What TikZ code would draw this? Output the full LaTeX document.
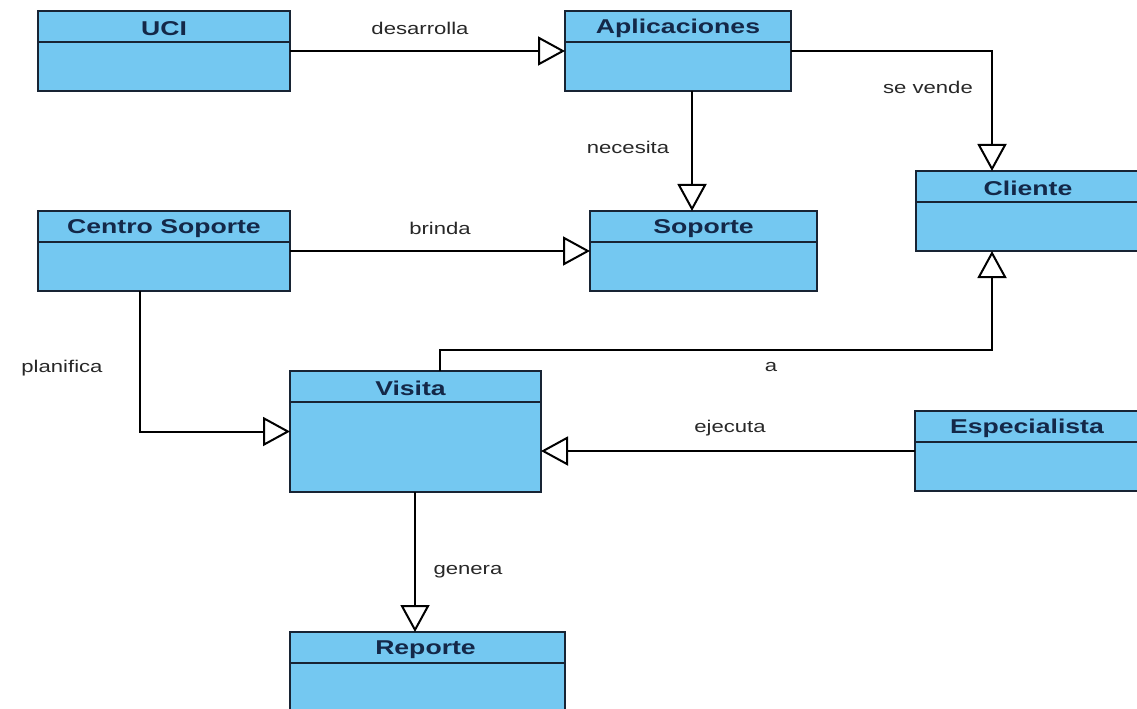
\documentclass[tikz,border=0pt]{standalone}
\usepackage{fontspec}
\usetikzlibrary{arrows.meta,calc}
\newfontfamily\titlefont[FakeStretch=1.33]{Liberation Sans}
\newfontfamily\labelfont[FakeStretch=1.3]{Liberation Sans}
\definecolor{classfill}{RGB}{116,200,241}
\definecolor{classedge}{RGB}{24,36,52}
\definecolor{titleink}{RGB}{20,40,72}
\definecolor{labelink}{RGB}{40,40,40}
\tikzset{
  classbox/.style={draw=classedge, line width=2bp, fill=classfill, rectangle,
    inner sep=0pt, outer sep=0pt, anchor=north west},
  divider/.style={draw=classedge, line width=1.8bp},
  classtitle/.style={text=titleink, inner sep=0pt,
    font=\titlefont\bfseries\fontsize{20bp}{24bp}\selectfont},
  edgelabel/.style={text=labelink, inner sep=0pt,
    font=\labelfont\fontsize{17bp}{20bp}\selectfont},
  generalization/.style={draw=black, line width=2bp,
    -{Triangle[open, fill=white, length=27bp, width=29bp]}},
}
% name, left, top, width, height, title, title x-offset from centre
\newcommand\umlclass[7]{%
  \node[classbox, minimum width=#4bp, minimum height=#5bp] (#1) at (#2,#3) {};
  \draw[divider] ([yshift=-31bp]#1.north west) -- ([yshift=-31bp]#1.north east);
  \node[classtitle] (#1-title) at ([xshift=#7bp, yshift=-17.5bp]#1.north) {#6};
}
\begin{document}
\begin{tikzpicture}[x=1bp, y=-1bp]
  \useasboundingbox[fill=white] (0,0) rectangle (1137,709);
  \clip (0,0) rectangle (1137,709);

  % classes
  \umlclass{uci}{38}{11}{252}{80}{UCI}{0}
  \umlclass{apps}{565}{11}{226}{80}{Aplicaciones}{0}
  \umlclass{cliente}{916}{171}{224}{80}{Cliente}{0}
  \umlclass{centro}{38}{211}{252}{80}{Centro Soporte}{0}
  \umlclass{soporte}{590}{211}{227}{80}{Soporte}{0}
  \umlclass{visita}{290}{371}{251}{121}{Visita}{-5}
  \umlclass{especialista}{915}{411}{224}{80}{Especialista}{0}
  \umlclass{reporte}{290}{632}{275}{110}{Reporte}{-2}

  % generalization connectors
  \draw[generalization] (uci.east) -- (apps.west);
  \draw[generalization] (apps.east) -| ($(cliente.north west)+(76,0)$);
  \draw[generalization] ($(apps.south west)+(127,0)$) -- ($(soporte.north west)+(102,0)$);
  \draw[generalization] (centro.east) -- (soporte.west);
  \draw[generalization] ($(centro.south west)+(102,0)$) |- (visita.west);
  \draw[generalization] ($(visita.north west)+(150,0)$) -- ++(0,-21)
    -| ($(cliente.south west)+(76,0)$);
  \draw[generalization] (especialista.west) -- (especialista.west -| visita.east);
  \coordinate (genera-start) at ($(visita.south west)+(125,0)$);
  \draw[generalization] (genera-start) -- (genera-start |- reporte.north);

  % connector labels
  \node[edgelabel] (l-desarrolla) at (420,28) {desarrolla};
  \node[edgelabel] (l-sevende) at (928,87) {se vende};
  \node[edgelabel] (l-necesita) at (628,147) {necesita};
  \node[edgelabel] (l-brinda) at (440,228) {brinda};
  \node[edgelabel] (l-planifica) at (62,368) {planifica};
  \node[edgelabel] (l-a) at (771,367) {a};
  \node[edgelabel] (l-ejecuta) at (730,428) {ejecuta};
  \node[edgelabel] (l-genera) at (468,572) {genera};
\end{tikzpicture}
\end{document}
